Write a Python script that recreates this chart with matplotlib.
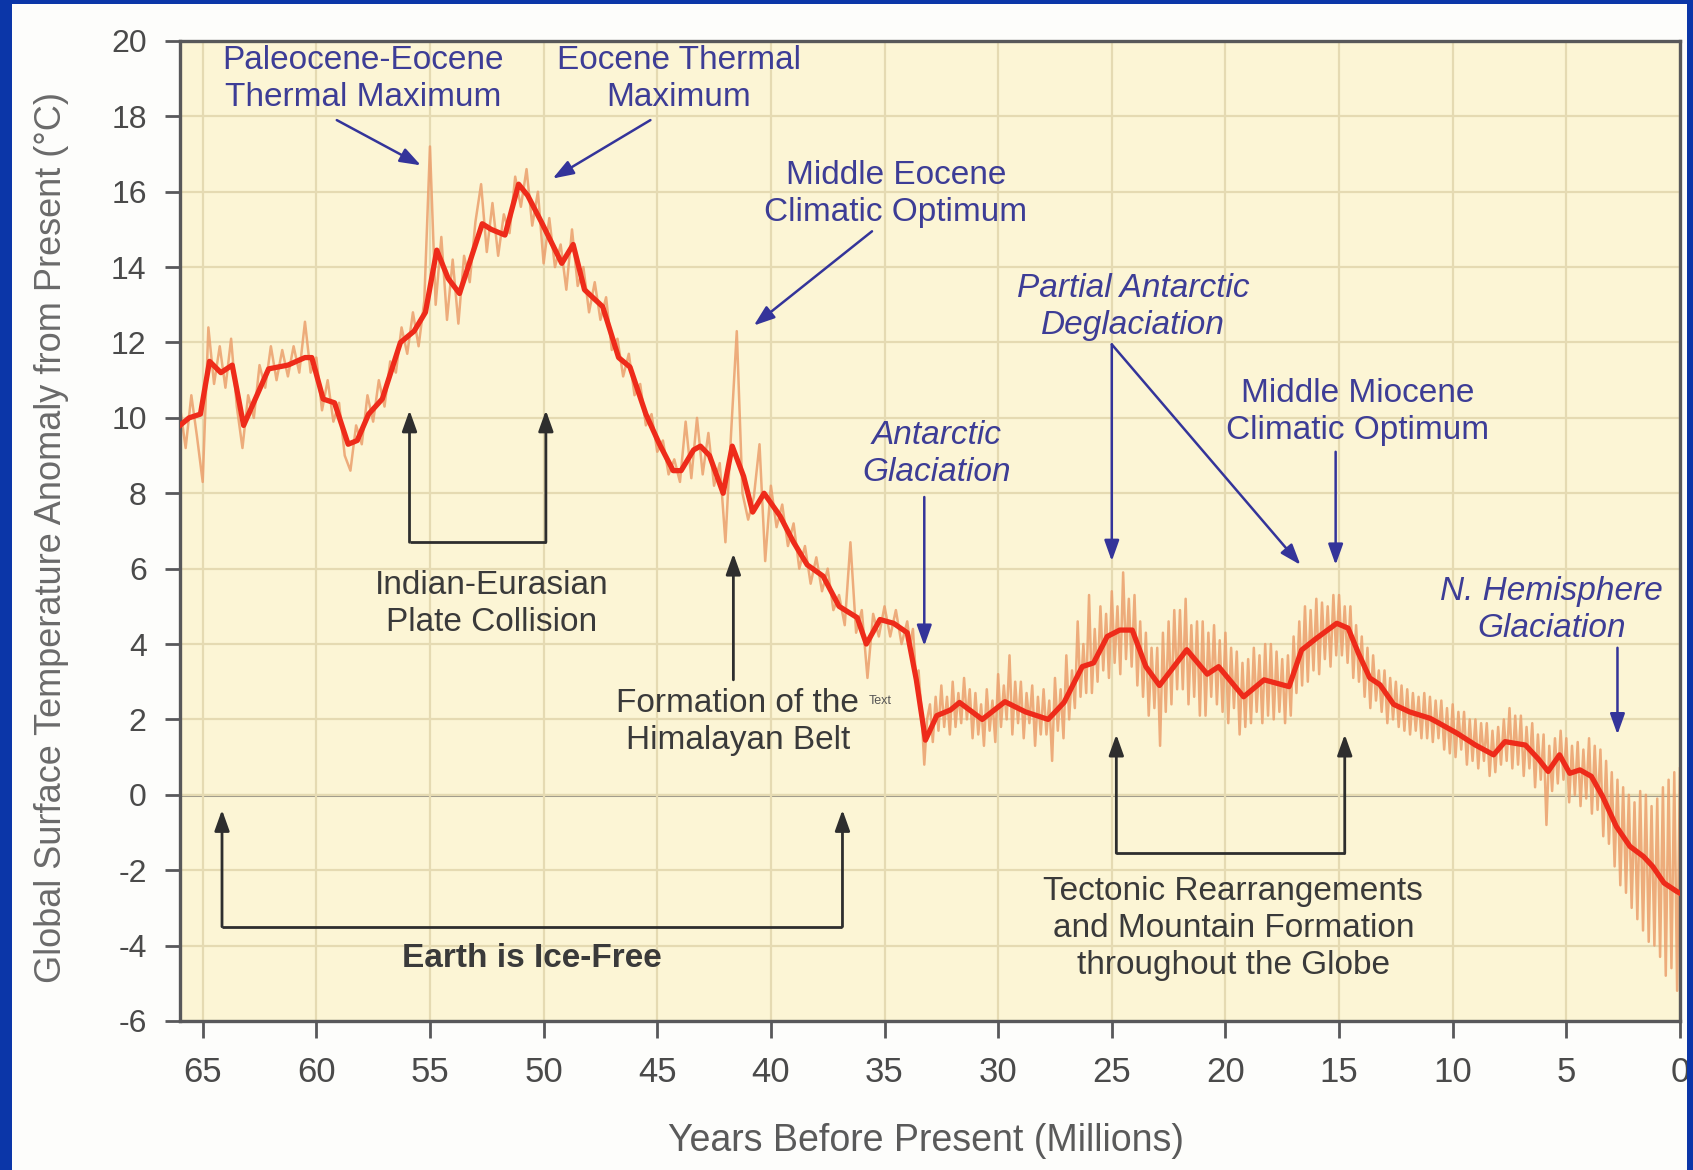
import numpy as np
import matplotlib
matplotlib.use("Agg")
import matplotlib.pyplot as plt
from matplotlib.patches import Rectangle

# ---------------- data ----------------
smooth_age = [66.0, 65.6, 65.1, 64.7, 64.2, 63.7, 63.2, 62.1, 61.25, 60.5, 60.2, 59.7,
              59.2, 58.6, 58.2, 57.7, 57.1, 56.3, 55.7, 55.2, 54.7, 54.2, 53.7, 52.7,
              52.3, 51.7, 51.1, 50.7, 50.1, 49.2, 48.7, 48.2, 47.4, 46.7, 46.2, 45.5,
              44.9, 44.3, 43.95, 43.4, 43.1, 42.7, 42.1, 41.7, 41.2, 40.8, 40.3, 39.6,
              39.0, 38.4, 37.7, 37.0, 36.2, 35.8, 35.2, 34.6, 34.0, 33.6, 33.2, 32.7,
              32.1, 31.7, 30.7, 29.7, 28.8, 27.8, 27.1, 26.3, 25.8, 25.2, 24.65, 24.1,
              23.5, 22.9, 21.7, 20.8, 20.3, 19.2, 18.3, 17.2, 16.65, 16.0, 15.1, 14.6,
              14.15, 13.65, 13.2, 12.6, 11.9, 11.0, 10.6, 9.8, 9.0, 8.2, 7.7, 6.8,
              6.2, 5.8, 5.3, 4.85, 4.4, 3.9, 3.4, 2.8, 2.2, 1.6, 1.2, 0.7, 0.15, 0.0]
smooth_temp = [9.8, 10.0, 10.1, 11.5, 11.2, 11.4, 9.8, 11.3, 11.4, 11.6, 11.6, 10.5,
               10.4, 9.3, 9.4, 10.1, 10.5, 12.0, 12.3, 12.8, 14.45, 13.7, 13.3, 15.15,
               15.0, 14.85, 16.2, 15.9, 15.2, 14.1, 14.6, 13.4, 12.95, 11.6, 11.35, 10.1,
               9.3, 8.6, 8.6, 9.15, 9.25, 9.0, 8.0, 9.25, 8.45, 7.5, 8.0, 7.4,
               6.7, 6.1, 5.8, 5.0, 4.7, 4.0, 4.65, 4.55, 4.3, 3.05, 1.45, 2.1,
               2.25, 2.45, 2.0, 2.47, 2.2, 2.0, 2.45, 3.4, 3.5, 4.2, 4.37, 4.37,
               3.4, 2.9, 3.85, 3.2, 3.4, 2.6, 3.05, 2.87, 3.84, 4.15, 4.55, 4.42,
               3.76, 3.1, 2.92, 2.4, 2.2, 2.03, 1.9, 1.63, 1.32, 1.06, 1.41, 1.32,
               0.93, 0.62, 1.06, 0.57, 0.66, 0.49, -0.05, -0.84, -1.37, -1.64, -1.9, -2.34, -2.56, -2.61]

# raw (unsmoothed) record, part 1: every 0.25 Myr from 66.0 to 34.25 Myr
raw_early_start, raw_early_step = 66.0, 0.25
raw_early_temp = [
    10.3, 9.2, 10.6, 9.5, 8.3, 12.4, 10.9, 11.9,
    10.8, 12.1, 10.3, 9.2, 10.6, 10.0, 11.4, 10.8,
    11.9, 11.0, 11.8, 11.1, 11.9, 11.2, 12.55, 11.2,
    11.6, 10.2, 11.0, 9.9, 10.4, 9.0, 8.6, 9.8,
    9.3, 10.6, 9.9, 11.0, 10.3, 11.5, 11.2, 12.4,
    11.7, 12.8, 11.9, 13.1, 17.2, 13.0, 14.8, 12.6,
    14.2, 12.5, 14.3, 13.6, 15.2, 16.2, 14.4, 15.7,
    14.3, 15.4, 14.9, 16.4, 15.6, 16.6, 15.1, 16.0,
    14.1, 15.3, 14.0, 14.6, 13.4, 15.0, 13.5, 14.0,
    12.8, 13.6, 12.6, 13.2, 11.8, 12.1, 11.1, 11.7,
    10.6, 10.9, 9.8, 10.1, 9.1, 9.4, 8.5, 8.9,
    8.3, 9.9, 8.4, 10.0, 8.5, 9.6, 8.2, 8.8,
    6.7, 9.6, 12.3, 8.0, 7.3, 7.9, 9.3, 6.2,
    8.2, 7.1, 7.7, 6.6, 7.2, 6.0, 6.6, 5.6,
    6.3, 5.4, 6.0, 4.9, 5.3, 4.5, 6.7, 4.3,
    4.9, 3.1, 4.8, 4.2, 5.0, 4.2, 4.9, 4.0]
# raw record, part 2: every 0.125 Myr from 34.0 Myr to present
raw_late_start, raw_late_step = 34.0, 0.125
raw_late_temp = [
    4.6, 4.0, 4.4, 3.2, 3.3, 2.2, 0.8, 2.0,
    2.4, 1.4, 2.6, 1.7, 2.9, 1.8, 2.6, 1.6,
    3.0, 1.8, 2.7, 1.9, 3.1, 2.0, 2.8, 1.5,
    2.7, 1.6, 2.4, 1.3, 2.8, 1.7, 2.5, 1.4,
    3.2, 1.8, 2.9, 2.0, 3.7, 1.6, 3.0, 1.9,
    3.0, 1.5, 2.7, 1.9, 2.9, 1.3, 2.6, 1.6,
    2.8, 1.6, 2.5, 0.9, 3.1, 1.7, 2.8, 1.5,
    3.7, 2.0, 3.3, 2.3, 4.6, 2.6, 4.0, 2.7,
    5.3, 2.7, 4.4, 3.0, 5.0, 3.3, 4.8, 3.1,
    5.4, 3.5, 5.0, 3.2, 5.9, 3.6, 5.2, 3.4,
    5.3, 2.9, 4.6, 2.6, 4.3, 2.1, 3.9, 2.3,
    3.9, 1.3, 4.3, 2.2, 4.6, 2.4, 4.9, 2.8,
    4.9, 2.8, 5.2, 2.4, 4.5, 2.6, 4.6, 2.1,
    4.6, 2.1, 4.3, 2.6, 4.5, 2.4, 4.1, 2.2,
    4.3, 1.9, 3.9, 2.3, 3.8, 1.6, 3.5, 1.8,
    3.6, 1.9, 3.9, 2.2, 3.7, 1.9, 4.0, 2.1,
    4.0, 2.0, 3.8, 2.2, 3.6, 1.9, 3.7, 2.1,
    4.2, 2.7, 4.6, 2.9, 5.0, 3.0, 4.9, 3.3,
    5.2, 3.2, 5.1, 3.6, 5.0, 3.4, 5.3, 3.7,
    5.3, 3.7, 5.0, 3.5, 5.0, 3.1, 4.5, 3.0,
    4.2, 2.6, 3.9, 2.3, 3.7, 2.5, 3.3, 2.2,
    3.3, 1.9, 3.1, 2.0, 3.0, 1.8, 2.9, 1.7,
    2.8, 1.6, 2.7, 1.7, 2.6, 1.5, 2.7, 1.5,
    2.6, 1.4, 2.5, 1.5, 2.5, 1.2, 2.3, 1.1,
    2.4, 1.0, 2.2, 1.2, 2.2, 0.8, 2.0, 0.9,
    2.0, 0.7, 1.9, 0.9, 1.9, 0.5, 1.7, 0.6,
    1.8, 0.8, 2.0, 0.9, 2.3, 0.7, 2.1, 0.8,
    2.1, 0.5, 1.8, 0.7, 1.9, 0.2, 1.6, 0.4,
    1.6, -0.8, 1.3, 0.1, 1.5, 0.3, 1.7, 0.4,
    1.5, -0.2, 1.3, 0.0, 1.4, -0.3, 1.2, -0.1,
    1.5, -0.5, 1.3, -0.4, 1.2, -1.1, 0.9, -1.3,
    0.6, -1.9, 0.4, -2.4, 0.2, -2.6, 0.0, -3.0,
    -0.2, -3.3, 0.1, -3.6, 0.0, -3.9, -0.3, -4.0,
    -0.1, -4.3, 0.2, -4.8, 0.4, -4.6, 0.6, -5.2,
    0.7]
raw_age = np.concatenate([
    raw_early_start - raw_early_step * np.arange(len(raw_early_temp)),
    raw_late_start - raw_late_step * np.arange(len(raw_late_temp))])
raw_temp = np.concatenate([raw_early_temp, raw_late_temp])

x_ticks = [65, 60, 55, 50, 45, 40, 35, 30, 25, 20, 15, 10, 5, 0]
y_ticks = [-6, -4, -2, 0, 2, 4, 6, 8, 10, 12, 14, 16, 18, 20]

# blue event labels: (text, x, y, italic)
blue_labels = [
    ("Paleocene-Eocene\nThermal Maximum", 57.95, 19.0, False),
    ("Eocene Thermal\nMaximum", 44.05, 19.0, False),
    ("Middle Eocene\nClimatic Optimum", 34.5, 15.95, False),
    ("Partial Antarctic\nDeglaciation", 24.05, 12.95, True),
    ("Middle Miocene\nClimatic Optimum", 14.2, 10.15, False),
    ("Antarctic\nGlaciation", 32.7, 9.05, True),
    ("N. Hemisphere\nGlaciation", 5.65, 4.9, True),
]
# blue arrows: (x_from, y_from, x_to, y_to)
blue_arrows = [
    (59.1, 17.9, 55.4, 16.7),
    (45.3, 17.9, 49.6, 16.35),
    (35.55, 14.95, 40.75, 12.45),
    (33.25, 7.9, 33.25, 3.95),
    (25.0, 11.95, 25.0, 6.2),
    (25.0, 11.95, 16.7, 6.1),
    (15.15, 9.1, 15.15, 6.1),
    (2.75, 3.9, 2.75, 1.6),
]
# black labels: (text, x, y, bold)
black_labels = [
    ("Indian-Eurasian\nPlate Collision", 52.3, 5.07, False),
    ("Formation of the\nHimalayan Belt", 41.45, 1.92, False),
    ("Earth is Ice-Free", 50.5, -4.35, True),
    ("Tectonic Rearrangements\nand Mountain Formation\nthroughout the Globe", 19.65, -3.55, False),
]
# bracket arrows: (x_left, x_right, y_base, y_tip)
brackets = [
    (55.9, 49.9, 6.7, 10.2),
    (64.15, 36.85, -3.5, -0.4),
    (24.8, 14.75, -1.55, 1.6),
]
# single black arrow: (x, y_from, y_to)
single_black = [(41.65, 3.05, 6.4)]

# ---------------- style ----------------
FONT = ["Liberation Sans", "DejaVu Sans"]
plt.rcParams["font.family"] = FONT
plt.rcParams["axes.unicode_minus"] = False
BLUE_TXT = "#3d3d96"
DARK_TXT = "#3a3a3a"
GRID = "#e5dab2"
BG = "#fcf5d5"
FRAME_BLUE = "#0b36a8"

fig = plt.figure(figsize=(16.93, 11.70), dpi=100, facecolor="#fdfdfb")
ax = fig.add_axes([0.1063, 0.1274, 0.8860, 0.8376])
ax.set_facecolor(BG)

# frame of the slide
for (x0, y0, w, h) in [(0, 0, 12 / 1693, 1), (0, 1 - 4 / 1170, 1, 4 / 1170),
                       (1 - 6 / 1693, 0, 6 / 1693, 1)]:
    fig.patches.append(Rectangle((x0, y0), w, h, transform=fig.transFigure,
                                 facecolor=FRAME_BLUE, edgecolor="none", zorder=0))

ax.set_xlim(66, 0)
ax.set_ylim(-6, 20)
ax.set_xticks(x_ticks)
ax.set_yticks(y_ticks)
ax.grid(True, color=GRID, lw=1.6, zorder=0)
ax.axhline(0, color="#9a9688", lw=2.2, zorder=1)

for s in ax.spines.values():
    s.set_color("#58585a")
    s.set_linewidth(2.4)
ax.tick_params(axis="x", direction="out", length=12, width=2, color="#58585a",
               pad=13, labelsize=25, labelcolor="#4a4a4a")
ax.tick_params(axis="y", direction="out", length=11, width=2, color="#58585a",
               pad=13, labelsize=23, labelcolor="#4a4a4a")

ax.plot(raw_age, raw_temp, color="#eb9f6c", lw=1.8, alpha=0.85, zorder=2)
ax.plot(smooth_age, smooth_temp, color="#ee2b1a", lw=3.8, zorder=3,
        solid_joinstyle="round")

fig.text(52 / 1693, 0.541, "Global Surface Temperature Anomaly from Present (\u00b0C)",
         rotation=90, ha="center", va="center", fontsize=26, color="#6a6a6a")
fig.text(926 / 1693, 1 - 1141 / 1170, "Years Before Present (Millions)",
         ha="center", va="center", fontsize=27, color="#5a5a5a")

for text, x, y, it in blue_labels:
    ax.text(x, y, text, ha="center", va="center", fontsize=24, color=BLUE_TXT,
            style="italic" if it else "normal", linespacing=1.25, zorder=5)

arrow_kw = dict(arrowstyle="-|>,head_length=0.7,head_width=0.25", mutation_scale=18,
                shrinkA=0, shrinkB=0)
for x0, y0, x1, y1 in blue_arrows:
    ax.annotate("", xy=(x1, y1), xytext=(x0, y0),
                arrowprops=dict(color="#34349a", lw=1.8, **arrow_kw), zorder=6)

for text, x, y, bold in black_labels:
    ax.text(x, y, text, ha="center", va="center", fontsize=24, color=DARK_TXT,
            fontweight="bold" if bold else "normal", linespacing=1.25, zorder=5)
ax.text(35.7, 2.4, "Text", fontsize=9, color="#555555", zorder=5)

for xl, xr, yb, yt in brackets:
    ax.plot([xl, xr], [yb, yb], color="#2e2e2e", lw=2.0, zorder=5,
            solid_capstyle="butt")
    for xx in (xl, xr):
        ax.annotate("", xy=(xx, yt), xytext=(xx, yb),
                    arrowprops=dict(color="#2e2e2e", lw=2.0, **arrow_kw), zorder=6)
for xx, y0, y1 in single_black:
    ax.annotate("", xy=(xx, y1), xytext=(xx, y0),
                arrowprops=dict(color="#2e2e2e", lw=2.0, **arrow_kw), zorder=6)

fig.savefig("out.png", dpi=100, facecolor=fig.get_facecolor())
